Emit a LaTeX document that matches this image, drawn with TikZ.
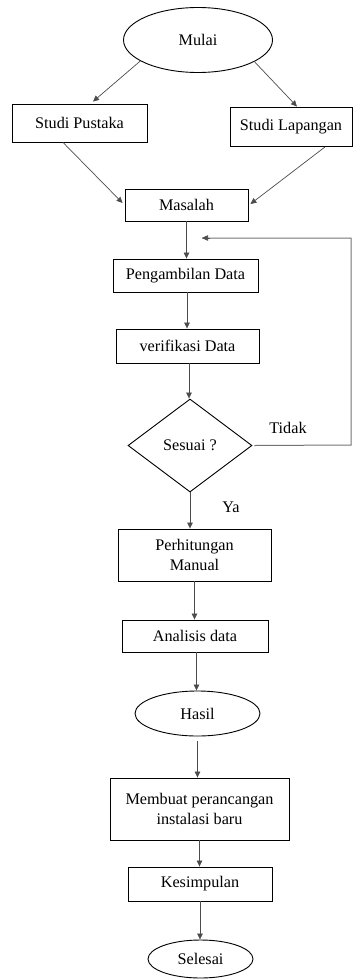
\documentclass[tikz,border=0pt]{standalone}
\usepackage{fontspec}
\setmainfont{Liberation Serif}
\usetikzlibrary{shapes.geometric,arrows.meta,calc}
\begin{document}
\begin{tikzpicture}[x=1pt,y=-1pt,
  every node/.style={font=\fontsize{16.2}{20}\selectfont, inner sep=0pt},
  box/.style={draw=black, line width=0.9pt, rectangle, align=center},
  oval/.style={draw=black, line width=0.9pt, ellipse},
  dec/.style={draw=black, line width=0.9pt, diamond},
  arr/.style={draw=black!70, line width=0.7pt, -{Triangle[length=6pt,width=5.5pt]}},
  ln/.style={draw=black!55, line width=1pt}]
\useasboundingbox (0,0) rectangle (353,980);
\node[oval, minimum width=149pt, minimum height=65pt] (mulai) at (198,40) {Mulai};
\node[box, minimum width=135pt, minimum height=38pt] (sp) at (79.5,123) {Studi Pustaka};
\node[box, minimum width=122pt, minimum height=39pt] (sl) at (291,126.5) {Studi Lapangan};
\node[box, minimum width=123pt, minimum height=32pt] (mas) at (186.5,205) {Masalah};
\node[box, minimum width=145pt, minimum height=33pt] (peng) at (185.5,275.5) {Pengambilan Data};
\node[box, minimum width=143pt, minimum height=34pt] (ver) at (187.5,346) {verifikasi Data};
\node[dec, minimum width=124pt, minimum height=93pt] (dia) at (190,445.5) {Sesuai ?};
\node (tidak) at (288,428) {Tidak};
\node (ya) at (231,507) {Ya};
\node[box, minimum width=153pt, minimum height=52pt] (per) at (194.5,555) {Perhitungan\\Manual};
\node[box, minimum width=146pt, minimum height=32pt] (ana) at (195,636) {Analisis data};
\node[oval, minimum width=125pt, minimum height=45pt] (hasil) at (197.5,713.5) {Hasil};
\node[box, minimum width=179pt, minimum height=62pt] (buat) at (199.5,809) {Membuat perancangan\\instalasi baru};
\node[box, minimum width=144pt, minimum height=34pt] (kes) at (200,884) {Kesimpulan};
\node[oval, minimum width=105pt, minimum height=38pt] (sel) at (200.5,959) {Selesai};

\coordinate (a1) at ($(peng.south)+(1.5,0)$);
\coordinate (a2) at ($(ver.south)+(1.5,0)$);
\coordinate (a3) at ($(ana.south)+(1.5,0)$);
\coordinate (a4) at ($(hasil.south)+(0,5)$);

\draw[arr] (mulai.200) -- ($(sp.north)+(13.5,-2)$);
\draw[arr] (mulai.339) -- ($(sl.north)+(6,0)$);
\draw[arr] ($(sp.south)+(-16.5,0)$) -- ($(mas.west)+(-2,-2)$);
\draw[arr] ($(sl.south)+(34,0.5)$) -- ($(mas.east)+(2,-1)$);
\draw[arr] (mas.south) -- (mas.south |- peng.north);
\draw[arr] (a1) -- (a1 |- ver.north);
\draw[arr] (a2) -- (a2 |- dia.north);
\draw[arr] (dia.south) -- (dia.south |- per.north);
\draw[arr] (per.south) -- (per.south |- ana.north);
\draw[arr] (a3) -- (a3 |- hasil.north);
\draw[arr] (a4) -- (a4 |- buat.north);
\draw[arr] (buat.south) -- (buat.south |- kes.north);
\draw[arr] (kes.south) -- (kes.south |- sel.north);
\coordinate (fb1) at (351,445);
\coordinate (fb2) at (351,238);
\coordinate (fb3) at (202,238);
\draw[ln] ($(dia.east)+(2,0)$) -- (fb1) -- (fb2) -- (fb3);
\draw[arr] ($(fb3)+(8,0)$) -- (fb3);
\end{tikzpicture}
\end{document}
